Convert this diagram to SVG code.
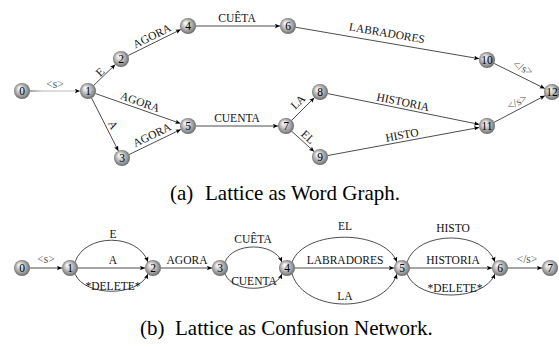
<svg xmlns="http://www.w3.org/2000/svg" width="559" height="347" viewBox="0 0 559 347" font-family="'Liberation Serif', 'Times New Roman', 'DejaVu Serif', serif">
<defs>
<radialGradient id="ball" cx="0.5" cy="0.5" r="0.55" fx="0.33" fy="0.3">
<stop offset="0" stop-color="#ffffff"/>
<stop offset="0.25" stop-color="#e2e2e2"/>
<stop offset="0.7" stop-color="#9c9c9c"/>
<stop offset="1" stop-color="#5a5a5a"/>
</radialGradient>
<linearGradient id="g01" gradientUnits="userSpaceOnUse" x1="30" y1="0" x2="80" y2="0">
<stop offset="0" stop-color="#111"/>
<stop offset="0.25" stop-color="#999"/>
<stop offset="1" stop-color="#aaa"/>
</linearGradient>
<marker id="arr" markerUnits="userSpaceOnUse" viewBox="0 -2.5 5.5 5" refX="5" refY="0" markerWidth="5.5" markerHeight="5" orient="auto">
<path d="M0,-2.2 L5,0 L0,2.2 L1,0 z" fill="#000"/>
</marker>
</defs>
<style>
.e{fill:none;stroke:#111;stroke-width:0.75;marker-end:url(#arr)}
.l{font-size:11.5px;fill:#111;text-anchor:middle}
.s{fill:#555}
.n circle{fill:url(#ball)}
.n text{font-size:11.5px;fill:#000;text-anchor:middle}
.cap{font-size:21px;fill:#000}
</style>

<g id="edges-a">
<line class="e" x1="30" y1="91" x2="80" y2="91" style="stroke:url(#g01)"/>
<line class="e" x1="93.7" y1="85.4" x2="115.3" y2="64.6"/>
<line class="e" x1="95.6" y1="93.6" x2="180.4" y2="123.4"/>
<line class="e" x1="91.6" y1="98.1" x2="118.4" y2="150.9"/>
<line class="e" x1="128.2" y1="55.5" x2="180.8" y2="29.5"/>
<line class="e" x1="129.2" y1="154.5" x2="180.8" y2="129.5"/>
<line class="e" x1="196" y1="26" x2="280" y2="26"/>
<line class="e" x1="196" y1="126" x2="278" y2="126"/>
<line class="e" x1="295.9" y1="27.3" x2="479.1" y2="58.7"/>
<line class="e" x1="291.7" y1="120.3" x2="314.3" y2="97.7"/>
<line class="e" x1="291.9" y1="131.4" x2="314.1" y2="151.6"/>
<line class="e" x1="327.8" y1="93.6" x2="479.2" y2="124.4"/>
<line class="e" x1="327.9" y1="155.5" x2="479.1" y2="127.5"/>
<line class="e" x1="494.2" y1="63.5" x2="544.8" y2="88.5"/>
<line class="e" x1="494.1" y1="122.3" x2="544.9" y2="95.7"/>
<text class="l s" x="55" y="88">&lt;s&gt;</text>
<text class="l" transform="translate(100,72) rotate(-44.1)" y="3.8">E</text>
<text class="l" transform="translate(152,36) rotate(-26.2)" y="3.8">AGORA</text>
<text class="l" transform="translate(140,102) rotate(19.3)" y="3.8">AGORA</text>
<text class="l" transform="translate(113,125) rotate(63.1)" y="3.8">A</text>
<text class="l" transform="translate(152,135) rotate(-25.9)" y="3.8">AGORA</text>
<text class="l" x="237" y="22">CUÊTA</text>
<text class="l" x="237" y="122">CUENTA</text>
<text class="l" transform="translate(387,33) rotate(9.7)" y="3.8">LABRADORES</text>
<text class="l" transform="translate(298,102) rotate(-45)" y="3.8">LA</text>
<text class="l" transform="translate(308,137) rotate(42.4)" y="3.8">EL</text>
<text class="l" transform="translate(403,102) rotate(11.5)" y="3.8">HISTORIA</text>
<text class="l" transform="translate(402,135) rotate(-10.5)" y="3.8">HISTO</text>
<text class="l s" transform="translate(523,68) rotate(26.2)" y="3.8">&lt;/s&gt;</text>
<text class="l s" transform="translate(517,102) rotate(-27.6)" y="3.8">&lt;/s&gt;</text>
</g>

<g id="nodes-a">
<g id="a0" class="n"><circle cx="22" cy="91" r="8"/><text x="22" y="95">0</text></g>
<g id="a1" class="n"><circle cx="88" cy="91" r="8"/><text x="88" y="95">1</text></g>
<g id="a2" class="n"><circle cx="121" cy="59" r="8"/><text x="121" y="63">2</text></g>
<g id="a3" class="n"><circle cx="122" cy="158" r="8"/><text x="122" y="162">3</text></g>
<g id="a4" class="n"><circle cx="188" cy="26" r="8"/><text x="188" y="30">4</text></g>
<g id="a5" class="n"><circle cx="188" cy="126" r="8"/><text x="188" y="130">5</text></g>
<g id="a6" class="n"><circle cx="288" cy="26" r="8"/><text x="288" y="30">6</text></g>
<g id="a7" class="n"><circle cx="286" cy="126" r="8"/><text x="286" y="130">7</text></g>
<g id="a8" class="n"><circle cx="320" cy="92" r="8"/><text x="320" y="96">8</text></g>
<g id="a9" class="n"><circle cx="320" cy="157" r="8"/><text x="320" y="161">9</text></g>
<g id="a10" class="n"><circle cx="487" cy="60" r="8"/><text x="487" y="64">10</text></g>
<g id="a11" class="n"><circle cx="487" cy="126" r="8"/><text x="487" y="130">11</text></g>
<g id="a12" class="n"><circle cx="552" cy="92" r="8"/><text x="552" y="96">12</text></g>
</g>

<text class="cap" x="170" y="200">(a)</text>
<text class="cap" x="205" y="200">Lattice as Word Graph.</text>

<g id="edges-b">
<line class="e" x1="30" y1="268" x2="62" y2="268"/>
<line class="e" x1="78" y1="268" x2="145" y2="268"/>
<path class="e" d="M75.1,261.9 C85,233 138,233 147.9,261.9"/>
<path class="e" d="M75.1,274.1 C85,297 138,297 147.9,274.1"/>
<line class="e" x1="161" y1="268" x2="212" y2="268"/>
<path class="e" d="M225.1,261.9 C233,242 274,242 281.9,261.9"/>
<path class="e" d="M225.1,274.1 C233,293 274,293 281.9,274.1"/>
<line class="e" x1="295" y1="268" x2="394" y2="268"/>
<path class="e" d="M292.1,261.9 C305,229 384,229 396.9,261.9"/>
<path class="e" d="M292.1,274.1 C305,314 384,314 396.9,274.1"/>
<line class="e" x1="410" y1="268" x2="492" y2="268"/>
<path class="e" d="M407.1,261.9 C418,230 484,230 494.9,261.9"/>
<path class="e" d="M407.1,274.1 C418,302 484,302 494.9,274.1"/>
<line class="e" x1="508" y1="268" x2="542" y2="268"/>
<text class="l s" x="46" y="263">&lt;s&gt;</text>
<text class="l" x="113" y="238">E</text>
<text class="l" x="113" y="264">A</text>
<text class="l" x="113" y="290">*DELETE*</text>
<text class="l" x="187" y="264">AGORA</text>
<text class="l" x="253" y="243">CUÊTA</text>
<text class="l" x="254" y="285">CUENTA</text>
<text class="l" x="345" y="230">EL</text>
<text class="l" x="345" y="264">LABRADORES</text>
<text class="l" x="345" y="300">LA</text>
<text class="l" x="453" y="232">HISTO</text>
<text class="l" x="453" y="264">HISTORIA</text>
<text class="l" x="455" y="292">*DELETE*</text>
<text class="l s" x="527" y="263">&lt;/s&gt;</text>
</g>

<g id="nodes-b">
<g id="b0" class="n"><circle cx="22" cy="268" r="8"/><text x="22" y="272">0</text></g>
<g id="b1" class="n"><circle cx="70" cy="268" r="8"/><text x="70" y="272">1</text></g>
<g id="b2" class="n"><circle cx="153" cy="268" r="8"/><text x="153" y="272">2</text></g>
<g id="b3" class="n"><circle cx="220" cy="268" r="8"/><text x="220" y="272">3</text></g>
<g id="b4" class="n"><circle cx="287" cy="268" r="8"/><text x="287" y="272">4</text></g>
<g id="b5" class="n"><circle cx="402" cy="268" r="8"/><text x="402" y="272">5</text></g>
<g id="b6" class="n"><circle cx="500" cy="268" r="8"/><text x="500" y="272">6</text></g>
<g id="b7" class="n"><circle cx="550" cy="268" r="8"/><text x="550" y="272">7</text></g>
</g>

<text class="cap" x="140" y="335">(b)</text>
<text class="cap" x="175" y="335">Lattice as Confusion Network.</text>
</svg>
